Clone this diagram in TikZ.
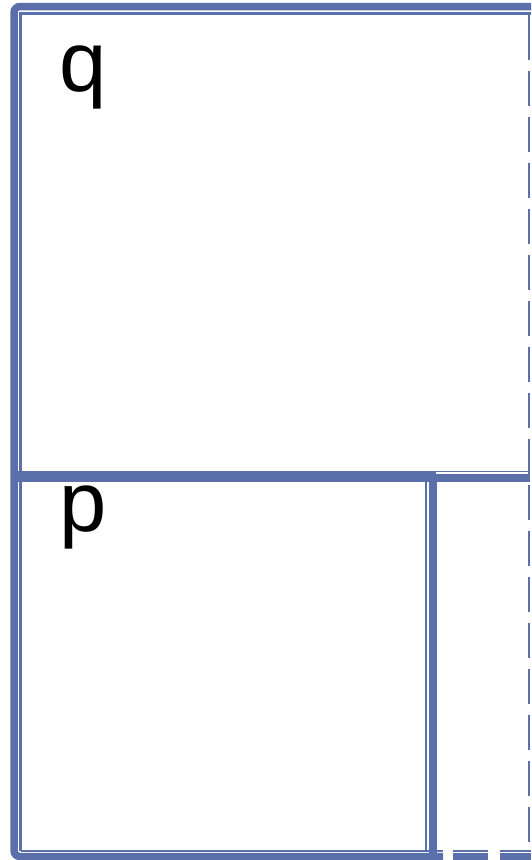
\documentclass[tikz,border=0pt]{standalone}
\usepackage{fontspec}
\setmainfont{Liberation Sans}
\definecolor{frameblue}{RGB}{91,111,171}
\begin{document}
\begin{tikzpicture}[x=1pt,y=-1pt,
  thickline/.style={draw=frameblue,line width=7.5pt},
  thinline/.style={draw=frameblue,line width=2pt},
  dashline/.style={dash pattern=on 35pt off 12pt},
  lbl/.style={inner sep=0pt,anchor=base west,font=\fontsize{85}{85}\selectfont,text=black}]
\useasboundingbox[fill=white] (0,0) rectangle (531,860);
% outer thick frame
\draw[thickline,rounded corners=6pt] (531,6.5) -- (14,6.5) -- (14,856.5) -- (443,856.5);
\draw[thickline,dashline] (453,856.5) -- (531,856.5);
% inner thin frame
\draw[thinline,line width=2.6pt] (531,13.2) -- (20.5,13.2) -- (20.5,851);
\draw[thinline,line width=1.8pt] (20.5,851) -- (443,851);
\draw[thinline,line width=1.8pt,dashline] (453,851) -- (531,851);
% right dashed edge
\draw[thinline] (529,13) -- (529,25);
\draw[thinline,dash pattern=on 35pt off 11pt] (529,25) -- (529,851);
% middle horizontal
\draw[draw=frameblue,line width=11pt] (18,476.2) -- (436,476.2);
\draw[thinline,line width=1.7pt] (436,471.5) -- (530,471.5);
\draw[draw=frameblue,line width=8pt] (436,477.7) -- (530,477.7);
% vertical divider
\draw[draw=frameblue,line width=7.4pt] (433,476) -- (433,860);
\draw[thinline,line width=1.7pt] (425.8,482) -- (425.8,851);
% labels
\node[lbl] (q) at (59,91) {q};
\node[lbl] (p) at (59,531) {p};
\end{tikzpicture}
\end{document}
